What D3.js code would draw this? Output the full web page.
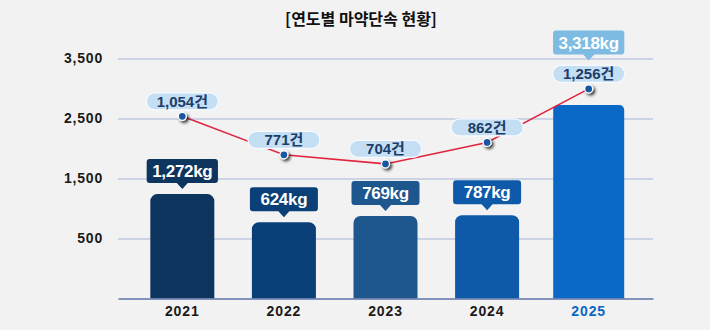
<!DOCTYPE html>
<html>
<head>
<meta charset="utf-8">
<script src="https://cdn.jsdelivr.net/npm/d3@7"></script>
<style>
  html, body { margin: 0; padding: 0; background: #f2f2f2; }
  svg { display: block; }
  .num { font-family: "Liberation Sans", Arial, "Noto Sans CJK KR", sans-serif; font-weight: bold; }
</style>
</head>
<body>
<svg id="chart" width="710" height="330"></svg>
<script>
// Yearly drug enforcement: seizures (kg, bars) and cases (건, line)
const years = ["2021", "2022", "2023", "2024", "2025"];
const seizureKg = [1272, 624, 769, 787, 3318];
const caseCounts = [1054, 771, 704, 862, 1256];
const axisTicks = [500, 1500, 2500, 3500];
const barColors = ["#0e355e", "#0a3f77", "#1e568e", "#0f5aa8", "#0a68c7"];
const titleText = "[연도별 마약단속 현황]";

const rows = years.map((y, i) => ({ year: y, kg: seizureKg[i], cases: caseCounts[i], color: barColors[i], last: i === years.length - 1 }));

const svg = d3.select("#chart");
const plot = { left: 118, right: 653, top: 58.5, bottom: 298.5 };

// shadow used under the line markers
const defs = svg.append("defs");
defs.append("filter").attr("id", "dotShadow").attr("x", "-100%").attr("y", "-100%").attr("width", "300%").attr("height", "300%")
  .append("feDropShadow").attr("dx", 2).attr("dy", 2).attr("stdDeviation", 1.4)
  .attr("flood-color", "#000").attr("flood-opacity", 0.75);

// scales
const x = d3.scaleBand().domain(years).range([plot.left, plot.right]).paddingInner(0.37).paddingOuter(0.318);
const yAxisScale = d3.scaleLinear().domain([-500, 3500]).range([plot.bottom, plot.top]);
const yKg = d3.scaleLinear().domain([0, d3.max(seizureKg)]).range([249.5, 105]);
const yCases = d3.scaleLinear().domain([0, d3.max(caseCounts)]).range([259.6, 88.9]);

// title
svg.append("text").attr("x", 361).attr("y", 25).attr("text-anchor", "middle")
  .style("font-family", '"Noto Sans CJK KR", sans-serif').style("font-weight", "bold")
  .style("font-size", "16px").attr("fill", "#111").text(titleText);

// y axis with gridlines
const yAxisG = svg.append("g").attr("transform", `translate(${plot.left},0)`)
  .call(d3.axisLeft(yAxisScale).tickValues(axisTicks).tickFormat(d3.format(","))
    .tickSizeInner(-(plot.right - plot.left)).tickSizeOuter(0).tickPadding(15));
yAxisG.select(".domain").remove();
yAxisG.selectAll(".tick line").attr("stroke", "#a7b5d6").attr("stroke-width", 1);
yAxisG.selectAll(".tick text").attr("class", "num").style("font-size", "14px")
  .style("letter-spacing", "0.8px").attr("fill", "#1a1a1a");

// bars with rounded tops
function topRounded(x0, y0, w, h, r) {
  return `M${x0},${y0 + h}V${y0 + r}A${r},${r} 0 0 1 ${x0 + r},${y0}H${x0 + w - r}A${r},${r} 0 0 1 ${x0 + w},${y0 + r}V${y0 + h}Z`;
}
svg.append("g").selectAll("path").data(rows).join("path")
  .attr("d", d => {
    const extra = d.last ? 3.5 : 0;
    const top = yKg(d.kg);
    return topRounded(x(d.year) - extra, top, x.bandwidth() + 2 * extra, plot.bottom - top, d.last ? 5 : 7);
  })
  .attr("fill", d => d.color);

// x axis
const xAxisG = svg.append("g").attr("transform", `translate(0,${plot.bottom})`)
  .call(d3.axisBottom(x).tickSize(0).tickPadding(8));
xAxisG.select(".domain").attr("stroke", "#5f73a8").attr("stroke-width", 1.6);
xAxisG.selectAll(".tick text").attr("class", "num").style("font-size", "14px")
  .style("letter-spacing", "0.9px")
  .attr("fill", (d, i) => rows[i].last ? "#0b67c2" : "#1a1a1a");

// case count line
const cx = d => x(d.year) + x.bandwidth() / 2;
svg.append("path").datum(rows)
  .attr("d", d3.line().x(cx).y(d => yCases(d.cases)))
  .attr("fill", "none").attr("stroke", "#e0243f").attr("stroke-width", 1.6);

svg.append("g").selectAll("circle").data(rows).join("circle")
  .attr("cx", cx).attr("cy", d => yCases(d.cases)).attr("r", 4)
  .attr("fill", "#1656a3").attr("stroke", "#fff").attr("stroke-width", 1.3)
  .attr("filter", "url(#dotShadow)");

// case count bubbles
const bubbleW = 72, bubbleH = 17;
const bubbles = svg.append("g").selectAll("g").data(rows).join("g")
  .attr("transform", d => `translate(${cx(d)},${yCases(d.cases) - 6.5 - bubbleH / 2})`);
bubbles.append("rect").attr("x", -bubbleW / 2).attr("y", -bubbleH / 2)
  .attr("width", bubbleW).attr("height", bubbleH).attr("rx", bubbleH / 2)
  .attr("fill", "#c4def3").attr("stroke", "#f7fbff").attr("stroke-width", 1.2);
bubbles.append("text").attr("class", "num").attr("text-anchor", "middle").attr("dy", "0.36em")
  .style("font-size", "15px").attr("fill", "#1c3d6a")
  .text(d => d3.format(",")(d.cases) + "건");

// seizure labels (callout boxes)
const boxH = 24, tipH = 6, tipW = 11;
const kgLabels = svg.append("g").selectAll("g").data(rows).join("g");
kgLabels.each(function (d) {
  const g = d3.select(this);
  const barTop = yKg(d.kg);
  const pointY = yCases(d.cases);
  // when the case bubble sits on top of the bar, stack the callout above it
  const anchorY = (barTop - pointY < 30) ? pointY - 6.5 - bubbleH - 5 : barTop - 5;
  const t = g.append("text").attr("class", "num").attr("text-anchor", "middle")
    .style("font-size", "17px").style("letter-spacing", "-0.3px").attr("fill", "#fff")
    .attr("x", cx(d)).attr("y", anchorY - tipH - boxH / 2).attr("dy", "0.36em")
    .text(d3.format(",")(d.kg) + "kg");
  const w = Math.max(68, t.node().getComputedTextLength() + 11);
  const c = cx(d), b = anchorY - tipH, top = b - boxH, r = 3;
  g.insert("path", "text")
    .attr("d", `M${c - w / 2 + r},${top}H${c + w / 2 - r}Q${c + w / 2},${top} ${c + w / 2},${top + r}` +
      `V${b - r}Q${c + w / 2},${b} ${c + w / 2 - r},${b}H${c + tipW / 2}L${c},${anchorY}L${c - tipW / 2},${b}` +
      `H${c - w / 2 + r}Q${c - w / 2},${b} ${c - w / 2},${b - r}V${top + r}Q${c - w / 2},${top} ${c - w / 2 + r},${top}Z`)
    .attr("fill", d.last ? "#7dbbe3" : d.color);
});
</script>
</body>
</html>
